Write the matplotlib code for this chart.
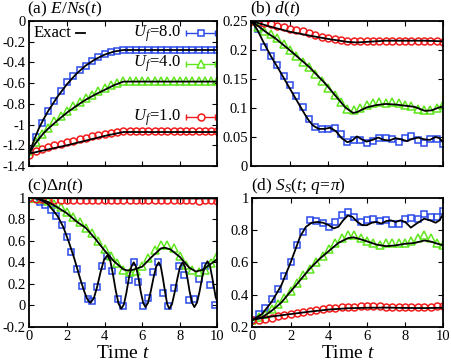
import matplotlib
matplotlib.use('Agg')
import matplotlib.pyplot as plt
from matplotlib.ticker import MultipleLocator, FuncFormatter

plt.rcParams['font.family'] = ['Liberation Serif', 'DejaVu Serif']
plt.rcParams['mathtext.fontset'] = 'custom'
plt.rcParams['mathtext.rm'] = 'Liberation Serif'
plt.rcParams['mathtext.it'] = 'Liberation Serif:italic'
plt.rcParams['axes.unicode_minus'] = False

# time grid of the QMC points
t_qmc = [0, 0.33, 0.67, 1, 1.33, 1.67, 2, 2.33, 2.67, 3, 3.33, 3.67, 4, 4.33, 4.67,
         5, 5.33, 5.67, 6, 6.33, 6.67, 7, 7.33, 7.67, 8, 8.33, 8.67, 9, 9.33, 9.67, 10]

# ---- (a) E/Ns(t) ----
a_u8 = [-1.245, -1.12, -0.986, -0.873, -0.77, -0.679, -0.592, -0.533, -0.475, -0.43,
        -0.388, -0.349, -0.323, -0.297, -0.285, -0.28, -0.28, -0.28, -0.28, -0.28, -0.28,
        -0.28, -0.28, -0.28, -0.28, -0.28, -0.28, -0.28, -0.28, -0.28, -0.28]
a_u4 = [-1.26, -1.17, -1.09, -1.03, -0.97, -0.92, -0.87, -0.825, -0.785, -0.745,
        -0.71, -0.68, -0.65, -0.62, -0.595, -0.578, -0.575, -0.575, -0.575, -0.575, -0.575,
        -0.575, -0.575, -0.575, -0.575, -0.575, -0.575, -0.575, -0.575, -0.575, -0.575]
a_u1 = [-1.29, -1.26, -1.24, -1.22, -1.2, -1.185, -1.17, -1.155, -1.14, -1.125,
        -1.11, -1.1, -1.09, -1.08, -1.072, -1.066, -1.065, -1.065, -1.065, -1.065, -1.065,
        -1.065, -1.065, -1.065, -1.065, -1.065, -1.065, -1.065, -1.065, -1.065, -1.065]
ta_ex = [0, 0.25, 0.5, 0.75, 1, 1.5, 2, 2.5, 3, 3.5, 4, 4.5, 5, 10]
a_u8_ex = [-1.28, -1.15, -1.04, -0.95, -0.87, -0.73, -0.61, -0.51, -0.43, -0.37, -0.325, -0.295, -0.28, -0.28]
a_u4_ex = [-1.28, -1.2, -1.14, -1.085, -1.04, -0.96, -0.885, -0.82, -0.76, -0.71, -0.665, -0.62, -0.585, -0.585]
ta1_ex = [0, 1, 2, 3, 4, 5, 10]
a_u1_ex = [-1.28, -1.24, -1.2, -1.155, -1.11, -1.072, -1.072]

# ---- (b) d(t) ----
b_u8 = [0.25, 0.236, 0.205, 0.19, 0.175, 0.155, 0.14, 0.12, 0.101, 0.081, 0.067, 0.063,
        0.064, 0.066, 0.055, 0.042, 0.044, 0.045, 0.04, 0.043, 0.049, 0.048, 0.046, 0.041,
        0.048, 0.052, 0.044, 0.04, 0.046, 0.047, 0.038]
b_u4 = [0.25, 0.24, 0.232, 0.227, 0.22, 0.21, 0.2, 0.19, 0.18, 0.17, 0.158, 0.147, 0.135,
        0.122, 0.11, 0.098, 0.096, 0.1, 0.105, 0.108, 0.11, 0.109, 0.11, 0.108, 0.106, 0.104,
        0.098, 0.096, 0.097, 0.1, 0.105]
b_u1 = [0.25, 0.248, 0.246, 0.244, 0.242, 0.239, 0.237, 0.234, 0.232, 0.229, 0.226, 0.223,
        0.221, 0.219, 0.217, 0.216, 0.215, 0.215, 0.215, 0.215, 0.215, 0.215, 0.215, 0.215,
        0.215, 0.215, 0.215, 0.215, 0.215, 0.215, 0.214]
tb8_ex = [0, 0.3, 0.6, 1.0, 1.4, 1.8, 2.2, 2.5, 2.8, 3.0, 3.2, 3.5, 3.8, 4.1, 4.4, 4.7, 5.0,
          5.25, 5.5, 5.75, 6.0, 6.3, 6.6, 6.9, 7.2, 7.5, 7.8, 8.1, 8.4, 8.7, 9.0, 9.3, 9.6, 9.8, 10]
b_u8_ex = [0.25, 0.235, 0.215, 0.19, 0.168, 0.145, 0.122, 0.105, 0.088, 0.078, 0.07, 0.064,
           0.064, 0.066, 0.06, 0.048, 0.041, 0.044, 0.051, 0.046, 0.042, 0.045, 0.049, 0.045,
           0.044, 0.048, 0.046, 0.043, 0.047, 0.049, 0.046, 0.045, 0.05, 0.048, 0.04]
tb4_ex = [0, 0.4, 0.73, 1.25, 2.1, 3.0, 3.85, 4.37, 4.89, 5.3, 5.5, 6.0, 6.5, 7.0, 7.5, 8.0,
          8.5, 9.05, 9.4, 9.7, 10]
b_u4_ex = [0.25, 0.24, 0.2315, 0.22, 0.1967, 0.171, 0.142, 0.1215, 0.101, 0.0914, 0.093,
           0.101, 0.105, 0.107, 0.106, 0.104, 0.102, 0.095, 0.096, 0.1, 0.103]
tb1_ex = [0, 1, 2, 3, 4, 5, 5.5, 6, 7, 8, 9, 10]
b_u1_ex = [0.25, 0.24, 0.2315, 0.225, 0.219, 0.214, 0.213, 0.214, 0.216, 0.216, 0.216, 0.215]

# ---- (c) Delta n(t) ----
tc8 = [0, 0.28, 0.57, 0.86, 1.15, 1.44, 1.73, 2.01, 2.24, 2.51, 2.81, 3.12, 3.33, 3.62,
       3.88, 4.13, 4.41, 4.71, 4.98, 5.29, 5.54, 5.8, 6.03, 6.3, 6.57, 6.84, 7.13, 7.39,
       7.71, 7.94, 8.24, 8.47, 8.73, 9.03, 9.33, 9.6, 9.86]
c_u8 = [1.0, 0.99, 0.96, 0.93, 0.89, 0.83, 0.75, 0.637, 0.497, 0.342, 0.177, 0.056, 0.04,
        0.171, 0.363, 0.457, 0.317, 0.062, -0.006, 0.239, 0.404, 0.217, -0.006, 0.068, 0.31,
        0.4, 0.118, -0.006, 0.165, 0.366, 0.28, 0.053, 0.06, 0.25, 0.366, 0.193, 0.0]
c_u4 = [1.0, 1.0, 0.99, 0.97, 0.94, 0.91, 0.87, 0.82, 0.77, 0.72, 0.67, 0.6, 0.52, 0.46,
        0.39, 0.33, 0.31, 0.32, 0.37, 0.44, 0.51, 0.56, 0.565, 0.53, 0.46, 0.38, 0.33, 0.31,
        0.33, 0.39, 0.46]
c_u1 = [1.0, 0.99, 0.985, 0.981, 0.979, 0.978, 0.977, 0.977, 0.976, 0.976, 0.976, 0.975,
        0.975, 0.975, 0.976, 0.976, 0.975, 0.975, 0.975, 0.976, 0.975, 0.975, 0.975, 0.976,
        0.975, 0.975, 0.975, 0.974, 0.975, 0.975, 0.972]
tc8_ex = [0, 0.5, 1.0, 1.5, 1.8, 2.1, 2.4, 2.7, 2.9, 3.05, 3.15, 3.25, 3.43, 3.61, 3.79,
          3.97, 4.15, 4.3, 4.44, 4.59, 4.74, 4.89, 5.03, 5.16, 5.29, 5.42, 5.55, 5.67, 5.8,
          5.92, 6.05, 6.17, 6.31, 6.45, 6.6, 6.74, 6.88, 6.99, 7.1, 7.22, 7.33, 7.44, 7.58,
          7.72, 7.87, 8.01, 8.15, 8.27, 8.4, 8.52, 8.65, 8.77, 8.91, 9.05, 9.19, 9.33, 9.47,
          9.6, 9.75, 9.9, 10.0]
c_u8_ex = [1.0, 0.99, 0.94, 0.83, 0.73, 0.59, 0.43, 0.25, 0.14, 0.07, 0.04, 0.025, 0.067,
           0.177, 0.313, 0.423, 0.465, 0.418, 0.294, 0.141, 0.017, -0.03, 0.011, 0.119,
           0.251, 0.359, 0.4, 0.36, 0.257, 0.128, 0.025, -0.015, 0.025, 0.128, 0.257, 0.36,
           0.4, 0.359, 0.251, 0.119, 0.011, -0.03, 0.011, 0.119, 0.251, 0.359, 0.4, 0.36,
           0.257, 0.128, 0.025, -0.015, 0.026, 0.132, 0.263, 0.369, 0.41, 0.367, 0.232,
           0.078, 0.03]
tc4_ex = [0, 0.5, 1.0, 1.5, 2.0, 2.5, 3.0, 3.5, 4.0, 4.5, 5.0, 5.2, 5.5, 6.0, 6.5, 7.0,
          7.2, 7.5, 8.0, 8.5, 8.85, 9.2, 9.6, 10]
c_u4_ex = [1.0, 0.99, 0.96, 0.91, 0.855, 0.78, 0.72, 0.62, 0.51, 0.41, 0.335, 0.325, 0.33,
           0.36, 0.45, 0.53, 0.536, 0.52, 0.45, 0.35, 0.315, 0.33, 0.38, 0.43]
tc1_ex = [0, 1, 2, 3, 5, 10]
c_u1_ex = [1.0, 0.997, 0.994, 0.993, 0.993, 0.993]

# ---- (d) S_s(t; q=pi) ----
d_u8 = [0.245, 0.278, 0.32, 0.374, 0.438, 0.514, 0.602, 0.705, 0.79, 0.86, 0.855, 0.845,
        0.82, 0.85, 0.89, 0.91, 0.88, 0.85, 0.86, 0.87, 0.855, 0.86, 0.835, 0.84, 0.87,
        0.875, 0.87, 0.9, 0.88, 0.88, 0.915]
d_u4 = [0.245, 0.26, 0.28, 0.31, 0.34, 0.38, 0.42, 0.47, 0.52, 0.56, 0.6, 0.64, 0.68, 0.72,
        0.75, 0.77, 0.77, 0.75, 0.73, 0.72, 0.71, 0.72, 0.72, 0.72, 0.72, 0.73, 0.75, 0.77,
        0.75, 0.72, 0.71]
d_u1 = [0.245, 0.245, 0.25, 0.257, 0.265, 0.272, 0.28, 0.287, 0.294, 0.3, 0.306, 0.311,
        0.316, 0.32, 0.323, 0.325, 0.326, 0.327, 0.327, 0.327, 0.327, 0.326, 0.326, 0.325,
        0.324, 0.324, 0.324, 0.325, 0.326, 0.327, 0.329]
td8_ex = [0, 0.5, 1.0, 1.5, 2.0, 2.5, 2.8, 3.1, 3.4, 3.7, 4.0, 4.25, 4.5, 4.75, 5.0, 5.25,
          5.5, 5.75, 6.0, 6.25, 6.5, 6.75, 7.0, 7.25, 7.5, 7.75, 8.0, 8.3, 8.6, 9.0, 9.3,
          9.6, 9.8, 10]
d_u8_ex = [0.245, 0.28, 0.355, 0.455, 0.6, 0.76, 0.82, 0.845, 0.85, 0.845, 0.83, 0.81, 0.82,
           0.86, 0.89, 0.88, 0.85, 0.83, 0.83, 0.845, 0.85, 0.84, 0.855, 0.86, 0.85, 0.86,
           0.85, 0.815, 0.84, 0.87, 0.86, 0.845, 0.86, 0.9]
td4_ex = [0, 0.5, 1.0, 1.5, 2.0, 2.5, 3.0, 3.5, 4.0, 4.5, 5.0, 5.3, 5.6, 6.0, 6.5, 7.0, 7.5,
          8.0, 8.5, 9.0, 9.3, 9.7, 10]
d_u4_ex = [0.245, 0.26, 0.3, 0.35, 0.42, 0.49, 0.56, 0.62, 0.67, 0.72, 0.75, 0.755, 0.745,
           0.73, 0.71, 0.7, 0.705, 0.715, 0.72, 0.735, 0.73, 0.715, 0.705]
td1_ex = [0, 1, 2, 3, 4, 5, 6, 7, 8, 9, 10]
d_u1_ex = [0.245, 0.265, 0.28, 0.295, 0.308, 0.316, 0.319, 0.32, 0.318, 0.317, 0.319]

BLUE = '#2b4ae8'
GREEN = '#5fe61c'
RED = '#f21b1b'

fig = plt.figure(figsize=(4.52, 3.63), dpi=100)
W, H = 452.0, 363.0


def make_ax(x0, x1, y0, y1):
    return fig.add_axes([x0 / W, 1 - y1 / H, (x1 - x0) / W, (y1 - y0) / H])


ax_a = make_ax(29.3, 217.5, 21, 166)
ax_b = make_ax(251.5, 443.3, 21, 166)
ax_c = make_ax(29.3, 217.5, 197.7, 327)
ax_d = make_ax(252.5, 443.3, 197.7, 327)

fmt = FuncFormatter(lambda v, p: '%g' % round(v, 4))


def style(ax, ylo, yhi, ystep, xlabels):
    ax.set_xlim(0, 10)
    ax.set_ylim(ylo, yhi)
    ax.xaxis.set_major_locator(MultipleLocator(2))
    ax.yaxis.set_major_locator(MultipleLocator(ystep))
    ax.yaxis.set_major_formatter(fmt)
    ax.xaxis.set_major_formatter(fmt)
    ax.tick_params(direction='in', top=True, right=True, length=3.5, width=0.8,
                   labelsize=10.5, pad=2.5)
    if not xlabels:
        ax.tick_params(labelbottom=False)
    for s in ax.spines.values():
        s.set_linewidth(1.3)


def qmc(ax, t, v, color, marker, ms):
    ax.plot(t, v, linestyle='none', marker=marker, ms=ms, mfc='none', mec=color,
            mew=1.1, zorder=2)


def exact(ax, t, v):
    ax.plot(t, v, color='black', lw=1.3, zorder=3)


# (a)
qmc(ax_a, t_qmc, a_u8, BLUE, 's', 4.6)
qmc(ax_a, t_qmc, a_u4, GREEN, '^', 5.2)
qmc(ax_a, t_qmc, a_u1, RED, 'o', 5.0)
exact(ax_a, ta_ex, a_u8_ex)
exact(ax_a, ta_ex, a_u4_ex)
exact(ax_a, ta1_ex, a_u1_ex)
style(ax_a, -1.4, 0, 0.2, False)

# labels placed next to the curves, gnuplot style
key = [('$U_f\\!=\\!8.0$', BLUE, 's', 4.6, 0.915),
       ('$U_f\\!=\\!4.0$', GREEN, '^', 5.2, 0.705),
       ('$U_f\\!=\\!1.0$', RED, 'o', 5.0, 0.335)]
for lab, col, mk, ms, yy in key:
    ax_a.text(0.805, yy, lab, transform=ax_a.transAxes, ha='right', va='center',
              fontsize=12)
    ax_a.plot([0.835, 0.985], [yy, yy], color=col, lw=1.0, transform=ax_a.transAxes,
              clip_on=False)
    ax_a.plot([0.835, 0.985], [yy, yy], ls='none', marker='|', ms=5, mec=col, mew=1.0,
              transform=ax_a.transAxes, clip_on=False)
    ax_a.plot([0.91], [yy], ls='none', marker=mk, ms=ms, mfc='white', mec=col, mew=1.1,
              transform=ax_a.transAxes, clip_on=False)
ax_a.text(0.02, 0.915, 'Exact', transform=ax_a.transAxes, ha='left', va='center',
          fontsize=12)
ax_a.plot([0.25, 0.295], [0.915, 0.915], color='black', lw=1.3, transform=ax_a.transAxes)

# (b)
qmc(ax_b, t_qmc, b_u8, BLUE, 's', 4.6)
qmc(ax_b, t_qmc, b_u4, GREEN, '^', 5.2)
qmc(ax_b, t_qmc, b_u1, RED, 'o', 5.0)
exact(ax_b, tb8_ex, b_u8_ex)
exact(ax_b, tb4_ex, b_u4_ex)
exact(ax_b, tb1_ex, b_u1_ex)
style(ax_b, 0, 0.25, 0.05, False)

# (c)
qmc(ax_c, tc8, c_u8, BLUE, 's', 4.6)
qmc(ax_c, t_qmc, c_u4, GREEN, '^', 5.2)
qmc(ax_c, t_qmc, c_u1, RED, 'o', 5.0)
exact(ax_c, tc8_ex, c_u8_ex)
exact(ax_c, tc4_ex, c_u4_ex)
exact(ax_c, tc1_ex, c_u1_ex)
style(ax_c, -0.2, 1.0, 0.2, True)

# (d)
qmc(ax_d, t_qmc, d_u8, BLUE, 's', 4.6)
qmc(ax_d, t_qmc, d_u4, GREEN, '^', 5.2)
qmc(ax_d, t_qmc, d_u1, RED, 'o', 5.0)
exact(ax_d, td8_ex, d_u8_ex)
exact(ax_d, td4_ex, d_u4_ex)
exact(ax_d, td1_ex, d_u1_ex)
style(ax_d, 0.2, 1.0, 0.2, True)

titles = [(ax_a, '(a) $E/Ns(t)$'), (ax_b, '(b) $d(t)$'),
          (ax_c, '(c)$\\Delta n(t)$'), (ax_d, '(d) $S_S(t;\\, q\\!=\\!\\pi)$')]
for ax, tt in titles:
    ax.text(-0.01, 1.015, tt, transform=ax.transAxes, ha='left', va='bottom', fontsize=12.5)

for ax in (ax_c, ax_d):
    ax.set_xlabel('Time $t$', fontsize=14, labelpad=1)

fig.savefig('out.png', dpi=100)
